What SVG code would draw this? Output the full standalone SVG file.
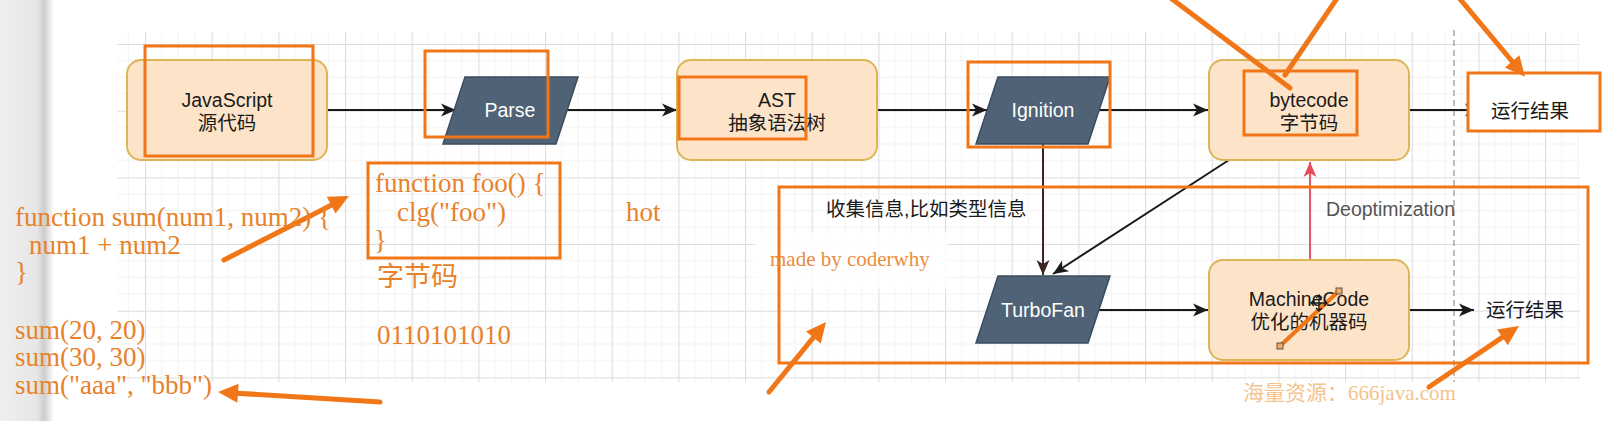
<svg xmlns="http://www.w3.org/2000/svg" width="1611" height="421" viewBox="0 0 1611 421">
  <style>
    .node { fill: #fde4c8; stroke: #dcb556; stroke-width: 2; }
    .para { fill: #4f6276; stroke: #3a4c5e; stroke-width: 1.5; }
    .lbl { font-family: "Liberation Sans", "Noto Sans CJK SC", sans-serif; font-size: 19.5px; fill: #1a1a1a; text-anchor: middle; }
    .wlbl { font-family: "Liberation Sans", "Noto Sans CJK SC", sans-serif; font-size: 19.5px; fill: #ffffff; text-anchor: middle; }
    .plain { font-family: "Liberation Sans", "Noto Sans CJK SC", sans-serif; font-size: 19.5px; fill: #1a1a1a; }
    .code { font-family: "Liberation Serif", "Noto Sans CJK SC", serif; font-size: 27px; fill: #e8822a; white-space: pre; }
    .ann { fill: none; stroke: #f07617; stroke-width: 3; }
    .annline { fill: none; stroke: #f07617; stroke-width: 5; stroke-linecap: round; }
    .conn { fill: none; stroke: #1a1a1a; stroke-width: 2; }
  </style>
  <defs>
    <linearGradient id="edge" x1="0" y1="0" x2="1" y2="0">
      <stop offset="0" stop-color="#f0f0f0"/>
      <stop offset="0.68" stop-color="#e6e6e6"/>
      <stop offset="0.82" stop-color="#cdcdcd"/>
      <stop offset="1" stop-color="#ffffff"/>
    </linearGradient>
    <pattern id="grid" x="145" y="44" width="66.667" height="66.667" patternUnits="userSpaceOnUse">
      <path d="M16.667 0V66.667M33.333 0V66.667M50 0V66.667M0 16.667H66.667M0 33.333H66.667M0 50H66.667" stroke="#f2f2f2" stroke-width="1"/>
      <path d="M0.5 0V66.667M0 0.5H66.667" stroke="#dddddd" stroke-width="1.2"/>
    </pattern>
    <marker id="arr" viewBox="-16 -8 17 16" refX="0" refY="0" markerWidth="17" markerHeight="16" markerUnits="userSpaceOnUse" orient="auto">
      <path d="M0,0 L-15,-6.5 L-11,0 L-15,6.5 Z" fill="#1a1a1a"/>
    </marker>
    <marker id="arrBrown" viewBox="-16 -8 17 16" refX="0" refY="0" markerWidth="17" markerHeight="16" markerUnits="userSpaceOnUse" orient="auto">
      <path d="M0,0 L-15,-6.5 L-11,0 L-15,6.5 Z" fill="#3d2424"/>
    </marker>
    <marker id="arrRed" viewBox="-16 -8 17 16" refX="0" refY="0" markerWidth="17" markerHeight="16" markerUnits="userSpaceOnUse" orient="auto">
      <path d="M0,0 L-15,-6.5 L-11,0 L-15,6.5 Z" fill="#e8495a"/>
    </marker>
    <marker id="oarr" viewBox="-8 -11 24 22" refX="0" refY="0" markerWidth="24" markerHeight="22" markerUnits="userSpaceOnUse" orient="auto">
      <path d="M14,0 L-6,-9.5 L-6,9.5 Z" fill="#f07617"/>
    </marker>
  </defs>

  <!-- background -->
  <rect x="0" y="0" width="1611" height="421" fill="#ffffff"/>
  <rect x="117" y="32" width="1463" height="350" fill="url(#grid)"/>
  <rect x="0" y="0" width="54" height="421" fill="url(#edge)"/>
  <line x1="1454" y1="30" x2="1454" y2="382" stroke="#a8a8a8" stroke-width="1.5" stroke-dasharray="6 4"/>
  <rect x="755" y="232" width="192" height="57" fill="#ffffff" opacity="0.85"/>

  <!-- connectors -->
  <g id="connectors">
    <line class="conn" x1="327" y1="110" x2="456" y2="110" marker-end="url(#arr)"/>
    <line class="conn" x1="567" y1="110" x2="677" y2="110" marker-end="url(#arr)"/>
    <line class="conn" x1="877" y1="110" x2="987" y2="110" marker-end="url(#arr)"/>
    <line class="conn" x1="1099" y1="110" x2="1208" y2="110" marker-end="url(#arr)"/>
    <line class="conn" x1="1409" y1="110" x2="1480" y2="110" marker-end="url(#arr)"/>
    <line x1="1043" y1="144" x2="1043" y2="275" stroke="#3d2424" stroke-width="2" marker-end="url(#arrBrown)"/>
    <line class="conn" x1="1229" y1="160" x2="1053" y2="274" marker-end="url(#arr)"/>
    <line class="conn" x1="1099" y1="310" x2="1208" y2="310" marker-end="url(#arr)"/>
    <line class="conn" x1="1409" y1="310" x2="1474" y2="310" marker-end="url(#arr)"/>
    <line x1="1310" y1="260" x2="1310" y2="162" stroke="#e05a6a" stroke-width="2" marker-end="url(#arrRed)"/>
  </g>

  <!-- nodes -->
  <g id="node-js">
    <rect class="node" x="127" y="60" width="200" height="100" rx="14"/>
    <text class="lbl" x="227" y="107">JavaScript</text>
    <text class="lbl" x="227" y="130">源代码</text>
  </g>
  <g id="node-parse">
    <polygon class="para" points="465,77 578,77 556,144 443,144"/>
    <text class="wlbl" x="510" y="117">Parse</text>
  </g>
  <g id="node-ast">
    <rect class="node" x="677" y="60" width="200" height="100" rx="14"/>
    <text class="lbl" x="777" y="107">AST</text>
    <text class="lbl" x="777" y="130">抽象语法树</text>
  </g>
  <g id="node-ignition">
    <polygon class="para" points="998,77 1110,77 1088,144 976,144"/>
    <text class="wlbl" x="1043" y="117">Ignition</text>
  </g>
  <g id="node-bytecode">
    <rect class="node" x="1209" y="60" width="200" height="100" rx="14"/>
    <text class="lbl" x="1309" y="107">bytecode</text>
    <text class="lbl" x="1309" y="130">字节码</text>
  </g>
  <g id="node-result-top">
    <rect x="1468" y="73" width="132" height="58" fill="#ffffff" stroke="#f07617" stroke-width="3"/>
    <text class="lbl" x="1530" y="118">运行结果</text>
  </g>
  <g id="node-turbofan">
    <polygon class="para" points="998,276 1110,276 1088,343 976,343"/>
    <text class="wlbl" x="1043" y="317">TurboFan</text>
  </g>
  <g id="node-machinecode">
    <rect class="node" x="1209" y="260" width="200" height="100" rx="14"/>
    <text class="lbl" x="1309" y="306">MachineCode</text>
    <text class="lbl" x="1309" y="329">优化的机器码</text>
  </g>
  <g id="node-result-bottom">
    <text class="lbl" x="1525" y="317">运行结果</text>
  </g>
  <g id="label-collect">
    <text class="plain" x="826" y="216">收集信息,比如类型信息</text>
  </g>
  <g id="label-deopt">
    <text class="plain" x="1326" y="216" style="fill:#555555">Deoptimization</text>
  </g>

  <!-- annotation rectangles -->
  <g id="annotations">
    <rect class="ann" x="145" y="46" width="168" height="110"/>
    <rect class="ann" x="425" y="51" width="123" height="86"/>
    <rect class="ann" x="679" y="77" width="127" height="62"/>
    <rect class="ann" x="968" y="62" width="142" height="85"/>
    <rect class="ann" x="1244" y="71" width="113" height="64"/>
    <rect class="ann" x="368" y="163" width="192" height="95"/>
    <rect class="ann" x="779" y="187" width="809" height="176"/>

    <line class="annline" x1="1168" y1="-4" x2="1290" y2="88"/>
    <line class="annline" x1="1340" y1="-6" x2="1285" y2="75"/>
    <line class="annline" x1="1455" y1="-7" x2="1516" y2="66" marker-end="url(#oarr)"/>
    <line class="annline" x1="224" y1="260" x2="336.5" y2="202.4" marker-end="url(#oarr)"/>
    <line class="annline" x1="380" y1="402" x2="232" y2="392.9" marker-end="url(#oarr)"/>
    <line class="annline" x1="769" y1="392" x2="817.2" y2="332.9" marker-end="url(#oarr)"/>
    <line class="annline" x1="1429" y1="387" x2="1507.4" y2="333.9" marker-end="url(#oarr)"/>

    <line x1="1280" y1="346" x2="1339" y2="291" stroke="#f07617" stroke-width="4"/>
    <rect x="1277" y="343" width="6" height="6" fill="#f5a860" stroke="#555555" stroke-width="1"/>
    <rect x="1336" y="288" width="6" height="6" fill="#f5a860" stroke="#555555" stroke-width="1"/>
    <path d="M1319 295V311M1311 303H1327M1316 298L1319 295L1322 298M1316 308L1319 311L1322 308M1314 300L1311 303L1314 306M1324 300L1327 303L1324 306" fill="none" stroke="#1a1a1a" stroke-width="1.3"/>
  </g>

  <!-- code texts -->
  <g id="code-left">
    <text class="code" x="15" y="226">function sum(num1, num2) {</text>
    <text class="code" x="29" y="254">num1 + num2</text>
    <text class="code" x="15" y="281">}</text>
    <text class="code" x="15" y="339">sum(20, 20)</text>
    <text class="code" x="15" y="366">sum(30, 30)</text>
    <text class="code" x="15" y="394">sum("aaa", "bbb")</text>
  </g>
  <g id="code-foo">
    <text class="code" x="375" y="192">function foo() {</text>
    <text class="code" x="397" y="221">clg("foo")</text>
    <text class="code" x="374" y="249">}</text>
  </g>
  <text class="code" x="377" y="286" style="font-family:'Noto Sans CJK SC', sans-serif; font-size:27px">字节码</text>
  <text class="code" x="626" y="221">hot</text>
  <text class="code" x="377" y="344">0110101010</text>
  <text x="770" y="266" style="font-family:'Liberation Serif', serif; font-size:21px; fill:#eb8c3c">made by coderwhy</text>
  <text x="1243" y="400" style="font-family:'Liberation Serif', 'Noto Sans CJK SC', serif; font-size:21px; fill:#f3c48e">海量资源：666java.com</text>
</svg>
